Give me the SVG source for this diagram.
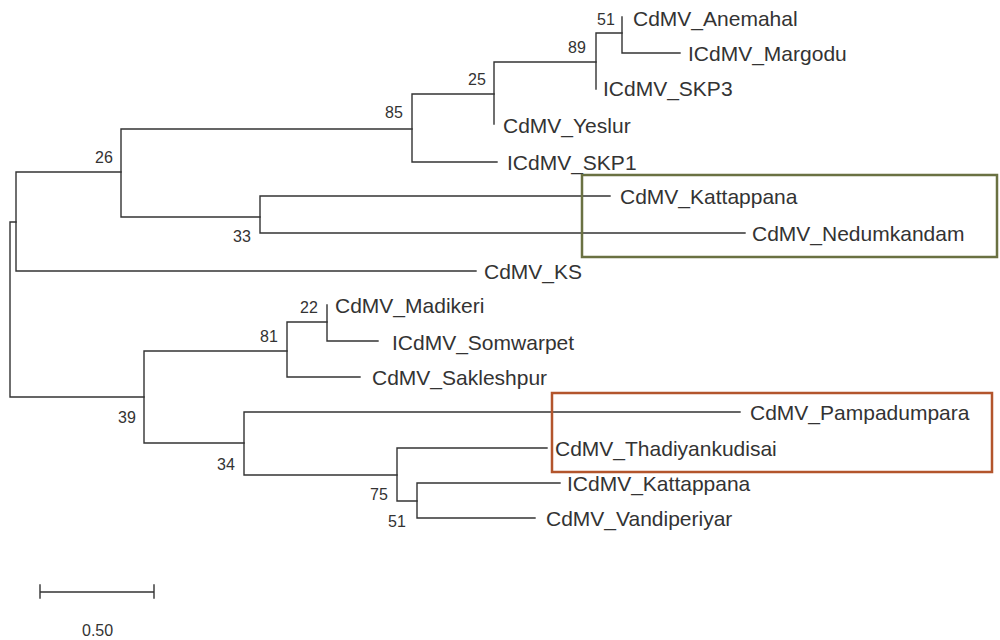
<svg xmlns="http://www.w3.org/2000/svg" width="1000" height="640" viewBox="0 0 1000 640">
<style>
.br{fill:none;stroke:#333;stroke-width:1.4;stroke-linecap:square}
.lf{font-family:"Liberation Sans",Arial,sans-serif;font-size:21px;fill:#333}
.bs{font-family:"Liberation Sans",Arial,sans-serif;font-size:16px;fill:#333}
.box{fill:none;stroke-width:2.5}
</style>
<rect width="1000" height="640" fill="#fff"/>
<g id="connectors" class="br">
<path d="M10,222 V397 M10,222 H16 M10,397 H144"/>
<path d="M16,172 V271 M16,172 H121 M16,271 H476"/>
<path d="M121,129 V217 M121,129 H412 M121,217 H260"/>
<path d="M412,94 V162 M412,94 H494 M412,162 H497"/>
<path d="M494,62 V124 M494,62 H596"/>
<path d="M596,33 V89 M596,33 H622"/>
<path d="M622,17 V53 M622,53 H680"/>
<path d="M260,196 V233 M260,196 H610 M260,233 H745"/>
<path d="M144,351 V443 M144,351 H287 M144,443 H244"/>
<path d="M287,322 V377 M287,322 H327 M287,377 H360"/>
<path d="M327,305 V341 M327,341 H378"/>
<path d="M244,412 V475 M244,412 H740 M244,475 H397"/>
<path d="M397,448 V501 M397,448 H547 M397,501 H417"/>
<path d="M417,483 V518 M417,483 H560 M417,518 H535"/>
</g>
<g id="internal-nodes" class="bs">
<g id="n51a"><text x="597" y="25">51</text></g>
<g id="n89"><text x="568" y="53">89</text></g>
<g id="n25"><text x="468" y="85">25</text></g>
<g id="n85"><text x="385" y="118">85</text></g>
<g id="n26"><text x="95" y="163">26</text></g>
<g id="n33"><text x="233" y="242">33</text></g>
<g id="n22"><text x="300" y="313">22</text></g>
<g id="n81"><text x="260" y="342">81</text></g>
<g id="n39"><text x="118" y="423">39</text></g>
<g id="n34"><text x="217" y="470">34</text></g>
<g id="n75"><text x="370" y="500">75</text></g>
<g id="n51b"><text x="388" y="527">51</text></g>
</g>
<g id="leaves" class="lf">
<g id="anemahal"><text x="633" y="25.5">CdMV_Anemahal</text></g>
<g id="margodu"><text x="688" y="60.5">ICdMV_Margodu</text></g>
<g id="skp3"><text x="603" y="95.5">ICdMV_SKP3</text></g>
<g id="yeslur"><text x="503" y="132.5">CdMV_Yeslur</text></g>
<g id="skp1"><text x="507" y="169.5">ICdMV_SKP1</text></g>
<g id="kattappana"><text x="620" y="203.5">CdMV_Kattappana</text></g>
<g id="nedumkandam"><text x="752" y="240.5">CdMV_Nedumkandam</text></g>
<g id="ks"><text x="484" y="278.5">CdMV_KS</text></g>
<g id="madikeri"><text x="335" y="312.5">CdMV_Madikeri</text></g>
<g id="somwarpet"><text x="392" y="349.5">ICdMV_Somwarpet</text></g>
<g id="sakleshpur"><text x="372" y="384.5">CdMV_Sakleshpur</text></g>
<g id="pampadumpara"><text x="750" y="419.5">CdMV_Pampadumpara</text></g>
<g id="thadiyankudisai"><text x="555" y="455.5">CdMV_Thadiyankudisai</text></g>
<g id="ikattappana"><text x="567" y="490.5">ICdMV_Kattappana</text></g>
<g id="vandiperiyar"><text x="546" y="525.5">CdMV_Vandiperiyar</text></g>
</g>
<g id="highlight-boxes">
<rect class="box" x="582" y="175" width="415" height="82" stroke="#6a7142"/>
<rect class="box" x="552" y="393" width="440" height="79" stroke="#b3552c"/>
</g>
<g id="scale-bar">
<path class="br" d="M40,592 H154 M40,585 V598 M154,585 V598"/>
<text class="bs" x="82" y="636">0.50</text>
</g>
</svg>
